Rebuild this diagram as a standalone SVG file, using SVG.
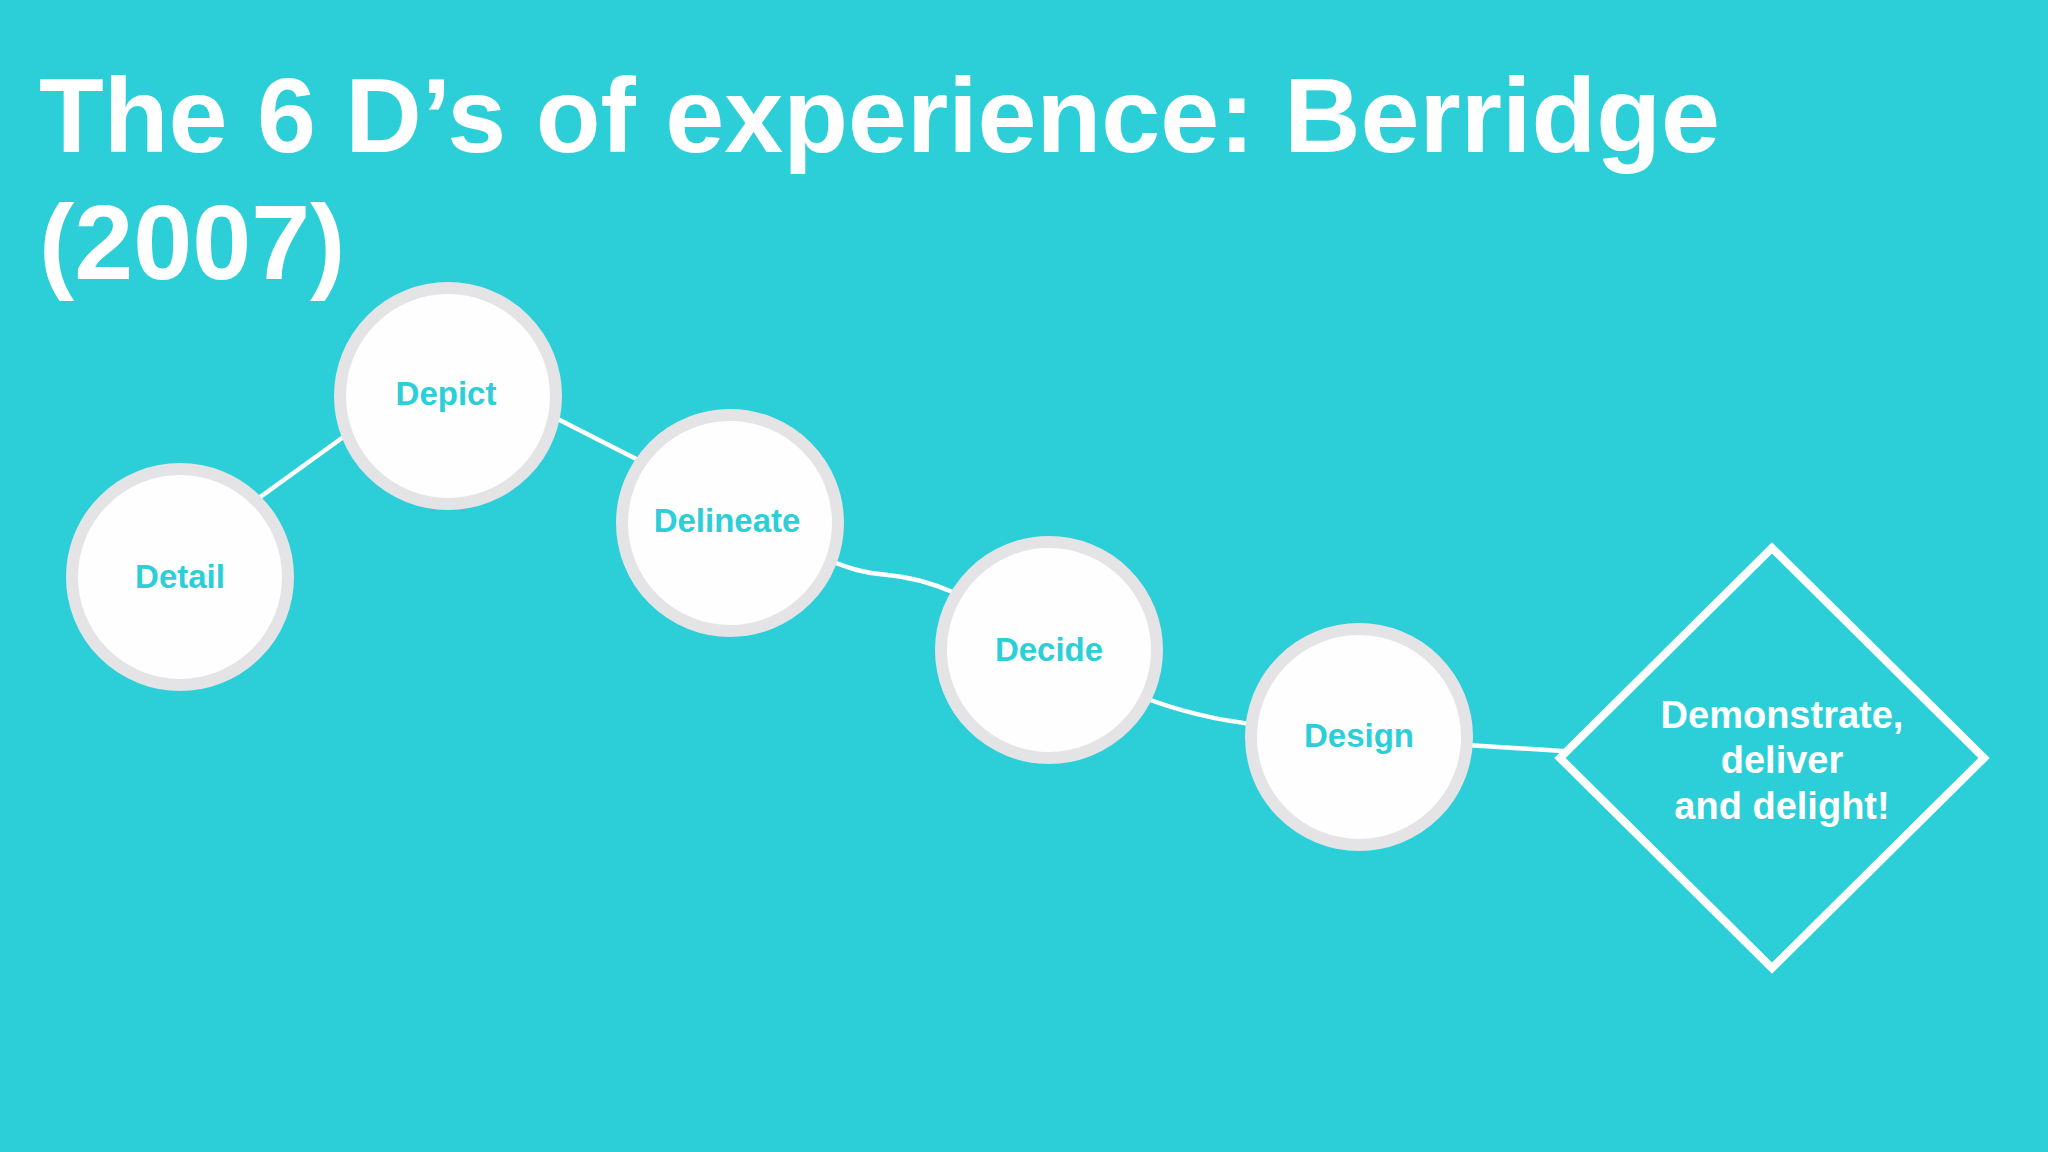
<svg xmlns="http://www.w3.org/2000/svg" width="2048" height="1152" viewBox="0 0 2048 1152">
  <style>
    .title { font-family: "Liberation Sans", Arial, sans-serif; font-weight: bold; font-size: 106px; fill: #ffffff; }
    .ring { fill: #fefefe; stroke: #e4e4e6; stroke-width: 12; }
    .label { font-family: "Liberation Sans", Arial, sans-serif; font-weight: bold; font-size: 33px; fill: #2ccfd8; text-anchor: middle; }
    .dtext { font-family: "Liberation Sans", Arial, sans-serif; font-weight: bold; font-size: 38px; fill: #ffffff; text-anchor: middle; }
    .conn { fill: none; stroke: #ffffff; stroke-width: 4.5; }
  </style>
  <rect width="2048" height="1152" fill="#2ccfd8"/>
  <g id="title">
    <text class="title" x="39" y="152">The 6 D’s of experience: Berridge</text>
    <text class="title" x="39" y="279">(2007)</text>
  </g>
  <g id="connectors">
    <line class="conn" x1="245" y1="508" x2="360" y2="425"/>
    <line class="conn" x1="540" y1="410" x2="650" y2="466"/>
    <path class="conn" d="M820,556 C850,570 866,573 888,575 C910,577 930,582 955,593"/>
    <path class="conn" d="M1140,696 Q1195,718 1260,725"/>
    <line class="conn" x1="1450" y1="744" x2="1563" y2="751"/>
  </g>
  <g id="node-detail">
    <circle class="ring" cx="180" cy="577" r="108"/>
    <text class="label" x="180" y="588">Detail</text>
  </g>
  <g id="node-depict">
    <circle class="ring" cx="448" cy="396" r="108"/>
    <text class="label" x="446" y="405">Depict</text>
  </g>
  <g id="node-delineate">
    <circle class="ring" cx="730" cy="523" r="108"/>
    <text class="label" x="727" y="532">Delineate</text>
  </g>
  <g id="node-decide">
    <circle class="ring" cx="1049" cy="650" r="108"/>
    <text class="label" x="1049" y="661">Decide</text>
  </g>
  <g id="node-design">
    <circle class="ring" cx="1359" cy="737" r="108"/>
    <text class="label" x="1359" y="747">Design</text>
  </g>
  <g id="node-final">
    <polygon points="1772,548 1984,758 1772,968 1560,758" fill="none" stroke="#ffffff" stroke-width="8"/>
    <text class="dtext" x="1782" y="728">Demonstrate,</text>
    <text class="dtext" x="1782" y="773">deliver</text>
    <text class="dtext" x="1782" y="819">and delight!</text>
  </g>
</svg>
